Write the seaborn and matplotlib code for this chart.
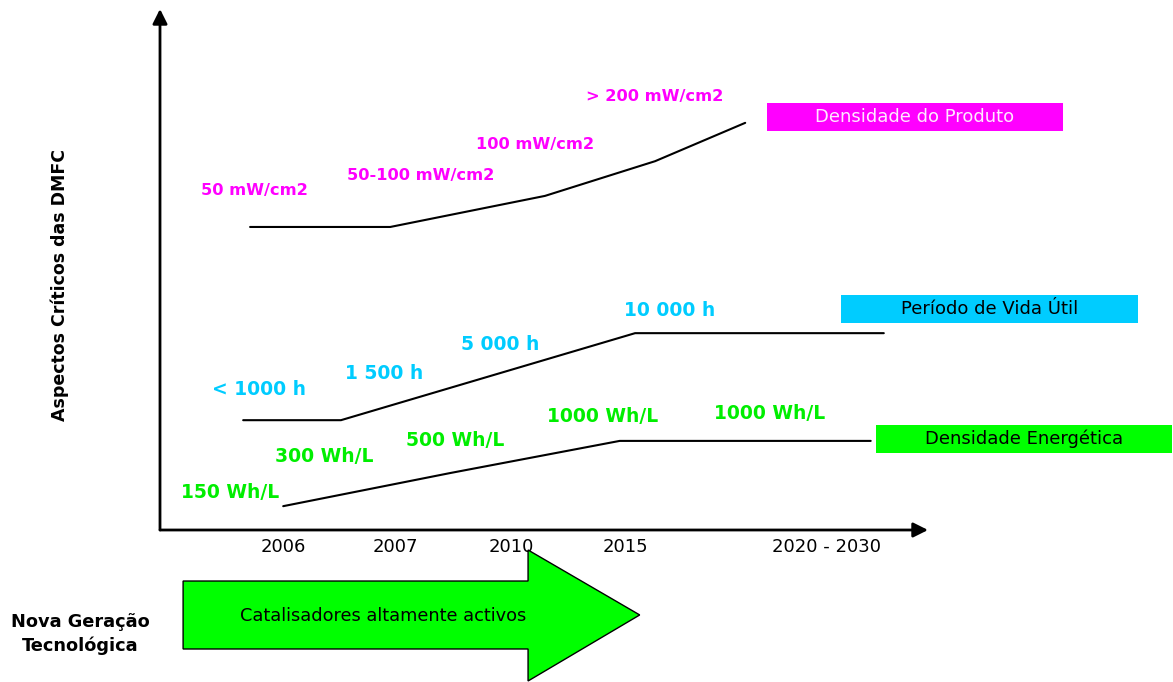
import matplotlib
matplotlib.use("Agg")
import matplotlib.pyplot as plt
from matplotlib.patches import Rectangle, Polygon
import seaborn as sns

sns.set_theme(style="white")
plt.rcParams["font.family"] = ["DejaVu Sans"]
plt.rcParams["text.color"] = "black"

# ---- data (timeline units on x, "level" units on y) ----
years = ["2006", "2007", "2010", "2015", "2020 - 2030"]
year_pos = [16.0, 30.6, 45.6, 60.4, 86.6]

produto_x = [11.7, 29.9, 50.0, 64.3, 76.0]
produto_y = [58.5, 58.5, 64.5, 71.2, 78.6]
produto_labels = ["50 mW/cm2", "50-100 mW/cm2", "100 mW/cm2", "> 200 mW/cm2"]
produto_lab_x = [12.3, 33.8, 48.7, 64.2]
produto_lab_y = [65.6, 68.5, 74.5, 83.6]

vida_x = [10.8, 23.5, 61.7, 94.0]
vida_y = [21.2, 21.2, 38.0, 38.0]
vida_labels = ["< 1000 h", "1 500 h", "5 000 h", "10 000 h"]
vida_lab_x = [12.9, 29.1, 44.2, 66.2]
vida_lab_y = [27.2, 30.3, 35.9, 42.3]

energia_x = [16.0, 37.7, 59.7, 92.3]
energia_y = [4.6, 11.0, 17.2, 17.2]
energia_labels = ["150 Wh/L", "300 Wh/L", "500 Wh/L", "1000 Wh/L", "1000 Wh/L"]
energia_lab_x = [9.1, 21.3, 38.3, 57.5, 79.2]
energia_lab_y = [7.3, 14.1, 17.2, 22.0, 22.4]

series_names = ["Densidade do Produto", "Período de Vida Útil", "Densidade Energética"]

MAGENTA = "#FF00FF"
CYAN = "#00CCFF"
GREEN = "#00FF00"
GREEN_TXT = "#00EE00"

W, H = 1173, 682
fig = plt.figure(figsize=(W / 100, H / 100), dpi=100)
fig.patch.set_facecolor("white")

# plotting region: 160..910 px horizontally, 28..530 px vertically
sx, sy = 7.7, 5.18
ax = fig.add_axes([160 / W, 152 / H, 750 / W, 502 / H])
ax.set_xlim(0, 750 / sx)
ax.set_ylim(0, 502 / sy)
ax.set_facecolor("white")
for s in ax.spines.values():
    s.set_visible(False)
ax.set_yticks([])
ax.set_xticks(year_pos)
ax.set_xticklabels(years, fontsize=13, color="black")
ax.tick_params(axis="x", length=0, pad=6)
ax.grid(False)

# axis arrows
arrow_kw = dict(arrowstyle="-|>", color="black", lw=2, mutation_scale=22,
                shrinkA=0, shrinkB=0)
ax.annotate("", xy=(0, (530 - 9) / sy), xytext=(0, 0),
            arrowprops=arrow_kw, annotation_clip=False)
ax.annotate("", xy=((928 - 160) / sx, 0), xytext=(0, 0),
            arrowprops=arrow_kw, annotation_clip=False)

# trend lines
for xs, ys in [(produto_x, produto_y), (vida_x, vida_y), (energia_x, energia_y)]:
    sns.lineplot(x=xs, y=ys, sort=False, estimator=None, color="black",
                 lw=1.5, ax=ax, legend=False)
for line in ax.lines:
    line.set_clip_on(False)

# value labels
lab_kw = dict(fontweight="bold", ha="center", va="center", clip_on=False)
for t, x, y in zip(produto_labels, produto_lab_x, produto_lab_y):
    ax.text(x, y, t, color=MAGENTA, fontsize=11.7, **lab_kw)
for t, x, y in zip(vida_labels, vida_lab_x, vida_lab_y):
    ax.text(x, y, t, color=CYAN, fontsize=13.5, **lab_kw)
for t, x, y in zip(energia_labels, energia_lab_x, energia_lab_y):
    ax.text(x, y, t, color=GREEN_TXT, fontsize=13.5, **lab_kw)

# series name boxes
boxes = [
    (78.8, 77.0, 117.3, 82.4, MAGENTA, "#FFE8FF"),
    (88.4, 40.0, 127.0, 45.4, CYAN, "black"),
    (93.0, 14.9, 131.4, 20.3, GREEN, "black"),
]
for name, (x0, y0, x1, y1, fc, tc) in zip(series_names, boxes):
    ax.add_patch(Rectangle((x0, y0), x1 - x0, y1 - y0, facecolor=fc,
                           edgecolor="none", clip_on=False))
    ax.text((x0 + x1) / 2, (y0 + y1) / 2, name, color=tc, fontsize=13,
            ha="center", va="center", clip_on=False)

# y-axis title
ax.text(-13.0, 47.3, "Aspectos Críticos das DMFC", rotation=90, fontsize=12.5,
        fontweight="bold", ha="center", va="center", clip_on=False, color="black")

# technology block arrow
arrow_pts = [(3.0, -9.85), (47.8, -9.85), (47.8, -3.86), (62.3, -16.4),
             (47.8, -29.15), (47.8, -22.97), (3.0, -22.97)]
ax.add_patch(Polygon(arrow_pts, closed=True, facecolor=GREEN, edgecolor="black",
                     lw=1, clip_on=False))
ax.text(28.96, -16.6, "Catalisadores altamente activos", fontsize=12.8,
        ha="center", va="center", clip_on=False, color="black")
ax.text(-10.4, -20.1, "Nova Geração\nTecnológica", fontsize=12.8,
        fontweight="bold", ha="center", va="center", linespacing=1.35,
        clip_on=False, color="black")

fig.savefig("out.png", dpi=100, facecolor="white")
